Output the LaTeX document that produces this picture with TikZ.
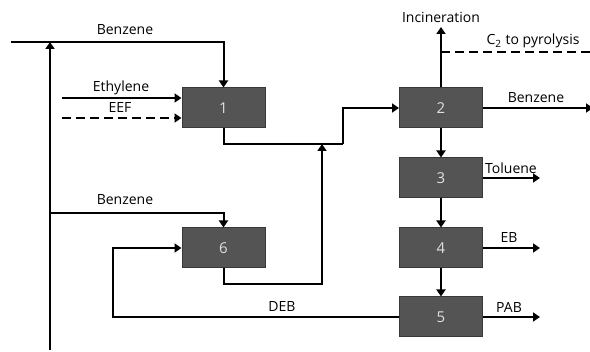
\documentclass[tikz,border=0pt]{standalone}
\usepackage{fontspec}
\setmainfont{Open Sans}
\usetikzlibrary{arrows.meta}
\tikzset{
  unit/.style={draw=black!78, fill=black!67, line width=0.5pt,
    minimum width=41.5pt, minimum height=20pt, inner sep=0pt,
    text=black!12, font=\fontsize{7.5}{8}\selectfont},
  flow/.style={line width=1pt, -{Triangle[length=3.5pt,width=4.5pt]}},
  pipe/.style={line width=1pt},
  broken/.style={dash pattern=on 4.5pt off 2.5pt},
  lbl/.style={font=\fontsize{7}{8}\selectfont, inner sep=0pt}
}
\begin{document}
\begin{tikzpicture}[x=0.5pt,y=-0.5pt]
  \useasboundingbox (0,0) rectangle (590,352);
  % units
  \node[unit] (U1) at (223.5,108) {1};
  \node[unit] (U2) at (441,108) {2};
  \node[unit] (U3) at (441,178) {3};
  \node[unit] (U4) at (441,248) {4};
  \node[unit] (U5) at (441,317) {5};
  \node[unit] (U6) at (223.5,248) {6};
  % free ends
  \coordinate (Bin) at (11,42);
  \coordinate (Rb) at (50,350);
  \coordinate (Rt) at (50,42);
  \coordinate (S6) at (50,213);
  \coordinate (Eth) at (62,98);
  \coordinate (Eef) at (62,118);
  \coordinate (M1) at (343,144);
  \coordinate (M6) at (322,284);
  \coordinate (D1) at (113,317);
  \coordinate (Inc) at (441,27);
  \coordinate (C2a) at (441,52);
  \coordinate (C2b) at (592,52);
  \coordinate (Bout) at (593,108);
  \coordinate (Tol) at (540,178);
  \coordinate (Eb) at (540,248);
  \coordinate (Pab) at (540,317);
  % benzene feed and recycle
  \draw[pipe] (Bin) -- (Rt);
  \draw[flow] (Rt) -| (U1.north);
  \draw[flow] (Rb) -- (Rt);
  \draw[flow] (S6) -| (U6.north);
  % feeds to 1
  \draw[flow] (Eth) -- (Eth -| U1.west);
  \draw[flow,broken] (Eef) -- (Eef -| U1.west);
  % effluents to 2
  \draw[pipe] (U1.south) |- (M1);
  \draw[flow] (M1) |- (U2.west);
  \draw[flow] (U6.south) |- (M6) -- (M6 |- M1);
  % column train
  \draw[flow] (U2.north) -- (Inc);
  \draw[pipe,broken] (C2a) -- (C2b);
  \draw[flow] (U2.east) -- (Bout);
  \draw[flow] (U2) -- (U3);
  \draw[flow] (U3) -- (U4);
  \draw[flow] (U4) -- (U5);
  \draw[flow] (U3.east) -- (Tol);
  \draw[flow] (U4.east) -- (Eb);
  \draw[flow] (U5.east) -- (Pab);
  % DEB recycle
  \draw[flow] (U5.west) -- (D1) |- (U6.west);
  % labels
  \node[lbl] (lBz1) at (125,30) {Benzene};
  \node[lbl] (lEth) at (121,88) {Ethylene};
  \node[lbl] (lEef) at (120,108) {EEF};
  \node[lbl] (lBz6) at (125,200) {Benzene};
  \node[lbl] (lDeb) at (282,307) {DEB};
  \node[lbl] (lInc) at (441,17) {Incineration};
  \node[lbl] (lC2) at (533,41) {C\textsubscript{2} to pyrolysis};
  \node[lbl] (lBz2) at (536,98) {Benzene};
  \node[lbl] (lTol) at (511,168) {Toluene};
  \node[lbl] (lEb) at (509,238) {EB};
  \node[lbl] (lPab) at (509,307) {PAB};
\end{tikzpicture}
\end{document}
